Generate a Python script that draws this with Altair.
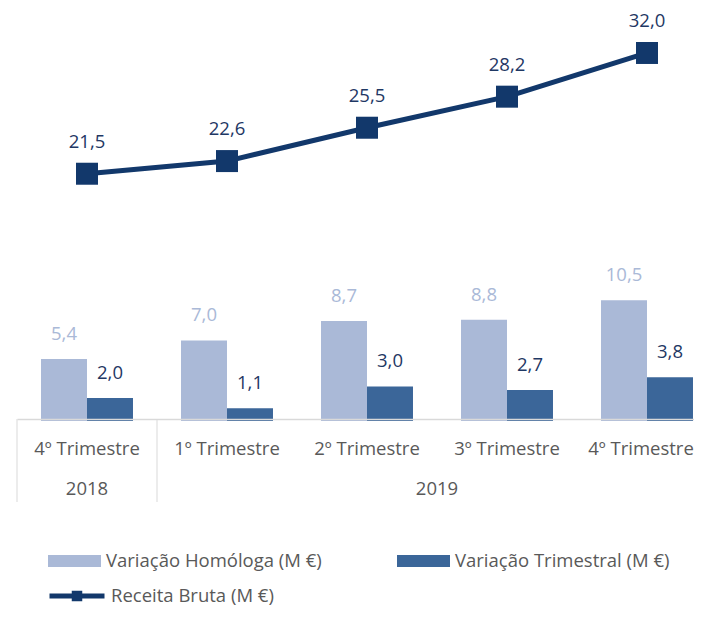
import altair as alt
import pandas as pd

# ---- data ----
periods = ["4º Trimestre|2018", "1º Trimestre|2019", "2º Trimestre|2019",
           "3º Trimestre|2019", "4º Trimestre|2019"]
receita = [21.5, 22.6, 25.5, 28.2, 32.0]
homologa = [5.4, 7.0, 8.7, 8.8, 10.5]
trimestral = [2.0, 1.1, 3.0, 2.7, 3.8]
series_bars = ["Variação Homóloga (M €)", "Variação Trimestral (M €)"]
series_line = "Receita Bruta (M €)"
year_2018 = "2018"
year_2019 = "2019"


def fmt(v):
    return f"{v:.1f}".replace(".", ",")


bars_df = pd.DataFrame({
    "period": periods * 2,
    "series": [series_bars[0]] * len(periods) + [series_bars[1]] * len(periods),
    "value": homologa + trimestral,
})
bars_df["label"] = bars_df["value"].map(fmt)

line_df = pd.DataFrame({"period": periods, "value": receita, "series": series_line})
line_df["label"] = line_df["value"].map(fmt)

sep_df = pd.DataFrame({"period": [periods[0], periods[1]]})
y2018_df = pd.DataFrame({"period": [periods[0]], "year": [year_2018]})
y2019_df = pd.DataFrame({"period": [periods[2]], "year": [year_2019]})

# ---- style ----
FONT = "Open Sans"
FS = 18.5
LIGHT = "#AAB9D7"
DARK = "#3B6699"
NAVY = "#12386B"
LABEL_NAVY = "#1F3864"
GREY = "#595959"
AXIS_GREY = "#D9D9D9"

W, H = 677, 411          # svg = 9 + 677 = 686 wide, 0 + 411 + 189 = 600 tall
XR = 700                 # band range runs past the right edge (chart is cut there)
YMIN, YMAX = 0.174, 35.91
PI = 0.343
STEP = XR / len(periods)
HALF_GAP_PX = PI * STEP / 2

x_scale = alt.Scale(domain=periods, range=[0, XR], paddingInner=PI, paddingOuter=PI / 2)
x_axis = alt.Axis(title=None, labelExpr="split(datum.label, '|')[0]", labelAngle=0,
                  ticks=False, tickSize=0, domainColor=AXIS_GREY, domainWidth=1.5,
                  labelFont=FONT, labelFontSize=FS, labelColor=GREY, labelPadding=29,
                  labelBaseline="middle", grid=False, labelOverlap=False, zindex=1,
                  labelOffset={"condition": {"test": f"datum.value == '{periods[-1]}'",
                                             "value": -6}, "value": 0})


def X(**kw):
    return alt.X("period:N", scale=x_scale, axis=x_axis, **kw)


Y = alt.Y("value:Q", scale=alt.Scale(domain=[YMIN, YMAX], zero=False), axis=None)

seps = alt.Chart(sep_df).mark_rule(color=AXIS_GREY, strokeWidth=1, xOffset=-HALF_GAP_PX).encode(
    x=X(bandPosition=0), y=alt.value(H), y2=alt.value(H + 83))

bars = alt.Chart(bars_df).mark_bar().encode(
    x=X(),
    xOffset=alt.XOffset("series:N", scale=alt.Scale(domain=series_bars, paddingInner=0, paddingOuter=0)),
    y=Y,
    color=alt.Color("series:N", scale=alt.Scale(domain=series_bars, range=[LIGHT, DARK]),
                    legend=alt.Legend(title=None, orient="none", legendX=31, legendY=526.5,
                                      direction="horizontal",
                                      symbolType="M-1,-0.226H1V0.226H-1Z", symbolSize=2809,
                                      symbolStrokeWidth=0, labelFont=FONT, labelFontSize=FS,
                                      labelColor=GREY, labelOffset=5, labelLimit=400,
                                      columnPadding=75)),
)

bar_labels = alt.Chart(bars_df).mark_text(dy=-25, baseline="middle", font=FONT, fontSize=FS).encode(
    x=X(),
    xOffset=alt.XOffset("series:N", scale=alt.Scale(domain=series_bars, paddingInner=0, paddingOuter=0)),
    y=Y,
    text="label:N",
    color=alt.condition(alt.datum.series == series_bars[0], alt.value(LIGHT), alt.value(LABEL_NAVY)),
)

line = alt.Chart(line_df).mark_line(strokeWidth=5).encode(
    x=X(), y=Y,
    stroke=alt.Stroke("series:N", scale=alt.Scale(domain=[series_line], range=[NAVY]),
                      legend=alt.Legend(title=None, orient="none", legendX=30, legendY=558,
                                        symbolType="M-1,0H1M-0.1,-0.1H0.1V0.1H-0.1Z",
                                        symbolSize=3025, symbolStrokeWidth=5,
                                        symbolFillColor=NAVY,
                                        labelFont=FONT, labelFontSize=FS, labelColor=GREY,
                                        labelOffset=4, labelLimit=400)),
)

markers = alt.Chart(line_df).mark_square(size=484, color=NAVY, opacity=1).encode(x=X(), y=Y)

line_labels = alt.Chart(line_df).mark_text(dy=-32, baseline="middle", font=FONT, fontSize=FS,
                                           color=LABEL_NAVY).encode(x=X(), y=Y, text="label:N")

yr18 = alt.Chart(y2018_df).mark_text(baseline="middle", font=FONT, fontSize=FS, color=GREY).encode(
    x=X(bandPosition=0.5), y=alt.value(H + 70), text="year:N")
yr19 = alt.Chart(y2019_df).mark_text(baseline="middle", font=FONT, fontSize=FS, color=GREY,
                                     dx=HALF_GAP_PX).encode(
    x=X(bandPosition=1), y=alt.value(H + 70), text="year:N")

chart = alt.layer(seps, bars, bar_labels, line, markers, line_labels, yr18, yr19).properties(
    width=W, height=H,
    autosize=alt.AutoSizeParams(type="none"),
    padding={"left": 9, "top": 0, "right": 0, "bottom": 189},
).resolve_legend(color="independent", stroke="independent").configure_view(stroke=None)

chart.save("out.html", embed_options={"renderer": "svg", "actions": False})
